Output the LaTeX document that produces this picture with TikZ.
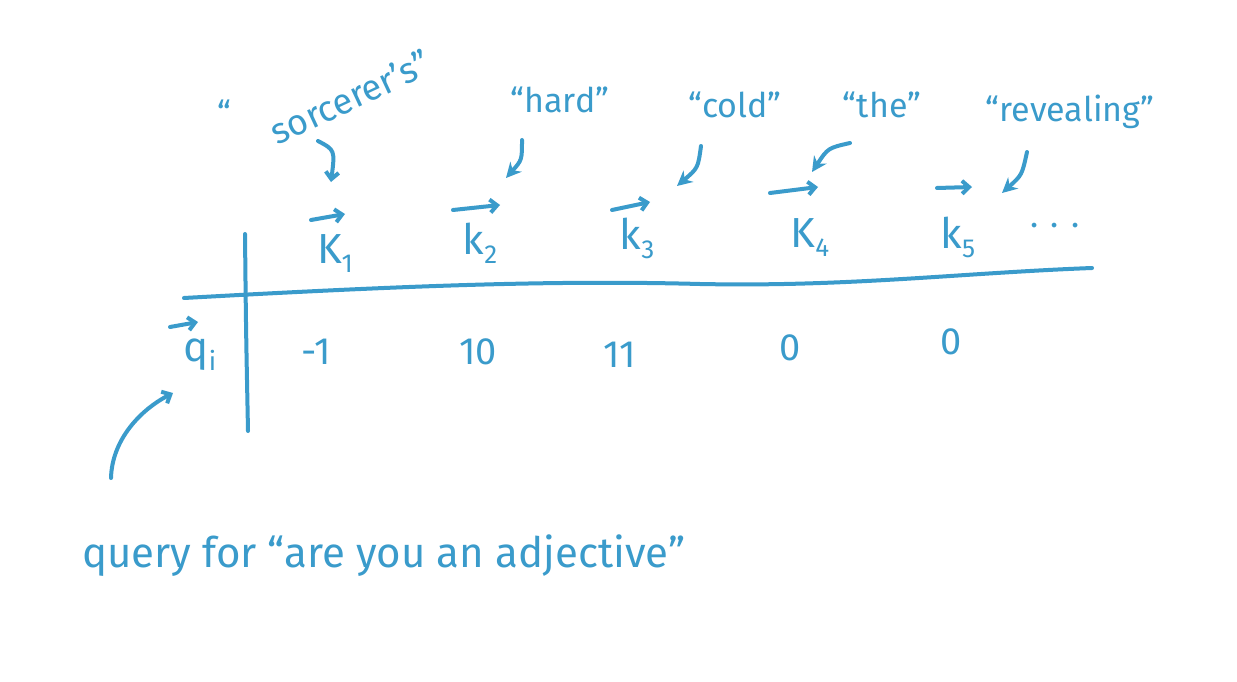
\documentclass[tikz,border=0pt]{standalone}
\usepackage{fontspec}
\setmainfont{Fira Sans}
\usetikzlibrary{arrows.meta}
\definecolor{ink}{HTML}{3A9BCB}
\newcommand{\ksub}[1]{\raisebox{-9pt}{\fontsize{26}{28}\selectfont #1}}
\begin{document}
\begin{tikzpicture}[x=1pt,y=-1pt, draw=ink, line width=4pt, line cap=round, line join=round,
  hw/.style={text=ink, font=\fontsize{34}{40}\selectfont, inner sep=0pt},
  big/.style={text=ink, font=\fontsize{42}{48}\selectfont, inner sep=0pt},
  num/.style={text=ink, font=\fontsize{38}{44}\selectfont, inner sep=0pt},
  ptr/.style={-{Stealth[length=15pt,width=15pt]}},
  barb/.style={-{Straight Barb[length=7pt,width=13pt]}}]
\useasboundingbox[fill=white] (0,0) rectangle (1237,682);

% words
\node[hw] (oq) at (224,113) {“};
\node[hw, rotate=25, font=\fontsize{36}{40}\selectfont] (sorc) at (350,97) {sorcerer's”};
\node[hw] (hard) at (560,100) {“hard”};
\node[hw] (cold) at (735,105) {“cold”};
\node[hw] (the) at (882,105) {“the”};
\node[hw] (rev) at (1070,112) {“revealing”};

% keys
\node[big] (k1) at (335,254) {K\ksub{1}};
\node[big] (k2) at (480,243) {k\ksub{2}};
\node[big] (k3) at (637,238) {k\ksub{3}};
\node[big] (k4) at (810,238) {K\ksub{4}};
\node[big] (k5) at (958,237) {k\ksub{5}};
\node[hw] (dots) at (1055,226) {. . .};

% vector arrows
\draw[barb] ([shift={(-24,-34)}]k1.center) -- ([shift={(10,-40)}]k1.center);
\draw[barb] ([shift={(-27,-33)}]k2.center) -- ([shift={(20,-38)}]k2.center);
\draw[barb] ([shift={(-25,-28)}]k3.center) -- ([shift={(13,-36)}]k3.center);
\draw[barb] ([shift={(-40,-45)}]k4.center) -- ([shift={(8,-51)}]k4.center);
\draw[barb] ([shift={(-21,-49)}]k5.center) -- ([shift={(14,-50)}]k5.center);

% pointers from words to keys
\coordinate (s0) at (318,141); \coordinate (s1) at (331,182);
\draw[barb] (s0) .. controls (335,150) .. (s1);
\coordinate (h0) at (522,140); \coordinate (h1) at (506,178);
\draw[ptr] (h0) .. controls (522,160) .. (h1);
\coordinate (c0) at (701,146); \coordinate (c1) at (677,186);
\draw[ptr] (c0) .. controls (698,168) .. (c1);
\coordinate (t0) at (850,143); \coordinate (t1) at (812,172);
\draw[ptr] (t0) .. controls (828,148) .. (t1);
\coordinate (r0) at (1027,152); \coordinate (r1) at (1002,193);
\draw[ptr] (r0) .. controls (1022,175) .. (r1);

% table lines
\coordinate (hl0) at (184,298); \coordinate (hl1) at (1092,268);
\draw (hl0) .. controls (400,286) and (550,280) .. (700,284) .. controls (850,287) and (960,273) .. (hl1);
\coordinate (vl0) at (245,234); \coordinate (vl1) at (248,431);
\draw (vl0) .. controls (246,330) .. (vl1);

% query
\node[big] (q) at (200,355) {q\ksub{i}};
\draw[barb] ([shift={(-30,-28)}]q.center) -- ([shift={(-2,-33)}]q.center);

% values
\node[num] (v1) at (316,352) {-1};
\node[num] (v2) at (478,352) {10};
\node[num] (v3) at (620,355) {11};
\node[num] (v4) at (790,348) {0};
\node[num] (v5) at (951,342) {0};

% bottom
\node[hw, anchor=west, font=\fontsize{42}{48}\selectfont] (lab) at (80,556) {query for “are you an adjective”};
\coordinate (a0) at (111,478); \coordinate (a1) at (173,393);
\draw[barb] (a0) .. controls (112,440) and (140,410) .. (a1);
\end{tikzpicture}
\end{document}
